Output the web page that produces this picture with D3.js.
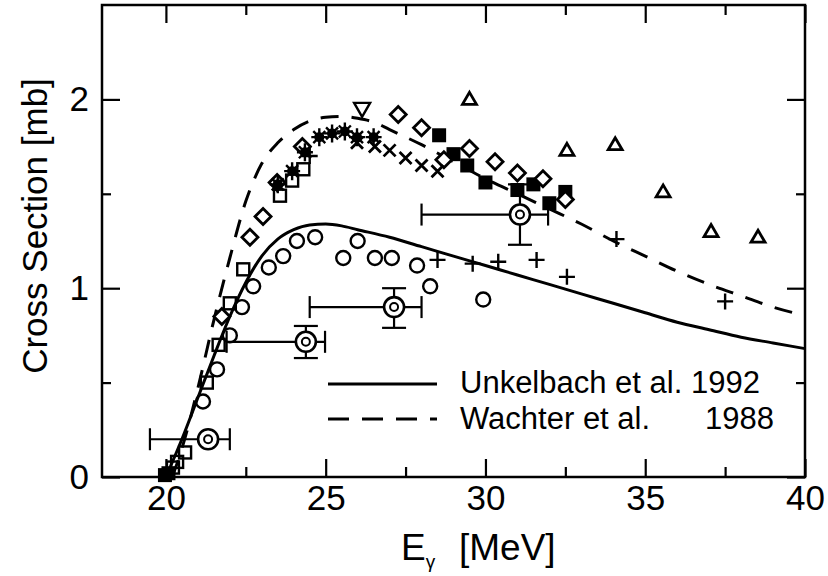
<!DOCTYPE html>
<html><head><meta charset="utf-8">
<script src="https://cdn.jsdelivr.net/npm/d3@7"></script>
<style>body{margin:0;background:#fff}svg{display:block}text{font-family:"Liberation Sans",Arial,sans-serif;fill:#000}</style>
</head><body>
<script>
// Theory curves
const unkE = [20.0,20.5,21.0,21.5,22.0,22.5,23.0,23.5,24.0,24.5,25.0,25.5,26.0,27.0,28.0,29.0,30.0,31.0,32.0,33.0,34.0,35.0,36.0,37.0,38.0,39.0,40.0];
const unkS = [0,0.2,0.42,0.64,0.85,1.03,1.17,1.26,1.31,1.335,1.34,1.33,1.31,1.27,1.22,1.17,1.12,1.07,1.02,0.97,0.92,0.87,0.82,0.78,0.74,0.71,0.68];
const wacE = [20.2,20.5,21.0,21.5,22.0,22.5,23.0,23.5,24.0,24.5,25.0,25.5,26.0,26.5,27.0,28.0,29.0,30.0,31.0,32.0,33.0,34.0,35.0,36.0,37.0,38.0,39.0,40.0];
const wacS = [0,0.15,0.47,0.83,1.16,1.46,1.66,1.77,1.84,1.885,1.905,1.91,1.90,1.88,1.84,1.76,1.67,1.58,1.50,1.42,1.34,1.25,1.17,1.09,1.02,0.96,0.90,0.855];

// Data sets
const circE = [21.16,21.6,22.0,22.38,22.73,23.22,23.67,24.1,24.67,25.55,26.0,26.54,27.07,27.86,28.27,29.93];
const circS = [0.40,0.57,0.75,0.90,1.01,1.11,1.17,1.25,1.27,1.16,1.25,1.16,1.16,1.12,1.01,0.94];
const sqE = [20.22,20.35,20.6,21.28,21.65,22.0,22.42,23.57,23.95,24.3];
const sqS = [0.05,0.08,0.13,0.50,0.70,0.92,1.10,1.49,1.57,1.63];
const fsqE = [19.97,20.08,28.55,29.0,29.43,30.0,31.0,31.5,32.0,32.5];
const fsqS = [0.01,0.02,1.81,1.71,1.65,1.56,1.52,1.55,1.45,1.51];
const diaE = [21.75,22.63,23.04,23.48,24.27,27.27,28.0,28.7,29.5,30.3,31.0,31.8,32.5];
const diaS = [0.85,1.27,1.38,1.56,1.75,1.92,1.85,1.68,1.74,1.67,1.61,1.58,1.47];
const triE = [29.5,32.55,34.06,35.56,37.06,38.53];
const triS = [2.0,1.73,1.76,1.51,1.30,1.27];
const tdnE = [26.14];
const tdnS = [1.95];
const xE = [25.98,26.54,27.0,27.5,28.0,28.5];
const xS = [1.77,1.75,1.73,1.69,1.65,1.62];
const astE = [23.5,23.95,24.35,24.8,25.2,25.6,25.98,26.5];
const astS = [1.55,1.62,1.72,1.80,1.82,1.83,1.80,1.80];
const plE = [24.5,28.5,29.6,30.4,31.6,32.55,34.1,37.5];
const plS = [1.70,1.15,1.13,1.14,1.15,1.06,1.26,0.93];
// bullseye points with error bars
const bE = [21.32,24.38,27.14,31.08];
const bS = [0.20,0.716,0.90,1.39];
const bXlo = [19.5,21.9,24.5,28.0];
const bXhi = [22.0,24.98,28.0,31.96];
const bYlo = [null,0.63,0.79,1.23];
const bYhi = [null,0.80,1.0,1.55];

const xMajor = [20,25,30,35,40];
const xMinor = [22.5,27.5,32.5,37.5];
const yMajor = [0,1,2];
const yMinor = [0.5,1.5];
const legendLabels = ["Unkelbach et al. 1992","Wachter et al."];
const legendYears = ["","1988"];

const W = 828, H = 576;
const x = d3.scaleLinear().domain([18,40]).range([102,805]);
const y = d3.scaleLinear().domain([0,2.5]).range([477,5]);
const svg = d3.select("body").append("svg").attr("width",W).attr("height",H);

const zip = (a,b) => a.map((v,i)=>[v,b[i]]);

// axes
function axes(){
  const g = svg.append("g");
  g.append("g").attr("transform","translate(0,477)")
    .call(d3.axisBottom(x).tickValues(xMajor).tickSize(-18).tickPadding(8).tickFormat(d3.format("d")));
  g.append("g").attr("transform","translate(0,477)")
    .call(d3.axisBottom(x).tickValues(xMinor).tickSize(-10).tickFormat(""));
  g.append("g").attr("transform","translate(0,5)")
    .call(d3.axisTop(x).tickValues(xMajor).tickSize(-18).tickFormat(""));
  g.append("g").attr("transform","translate(0,5)")
    .call(d3.axisTop(x).tickValues(xMinor).tickSize(-10).tickFormat(""));
  g.append("g").attr("transform","translate(102,0)")
    .call(d3.axisLeft(y).tickValues(yMajor).tickSize(-18).tickPadding(13).tickFormat(d3.format("d")));
  g.append("g").attr("transform","translate(102,0)")
    .call(d3.axisLeft(y).tickValues(yMinor).tickSize(-9).tickFormat(""));
  g.append("g").attr("transform","translate(805,0)")
    .call(d3.axisRight(y).tickValues(yMajor).tickSize(-18).tickFormat(""));
  g.append("g").attr("transform","translate(805,0)")
    .call(d3.axisRight(y).tickValues(yMinor).tickSize(-9).tickFormat(""));
  g.selectAll(".domain").remove();
  g.selectAll(".tick line").attr("stroke","#000").attr("stroke-width",2.2);
  g.selectAll(".tick text").attr("font-size",35).attr("font-family","Liberation Sans, Arial, sans-serif").attr("fill","#000");
  g.append("rect").attr("x",x(18)).attr("y",y(2.5)).attr("width",x(40)-x(18)).attr("height",y(0)-y(2.5))
    .attr("fill","none").attr("stroke","#000").attr("stroke-width",2.5);
}
axes();

// titles
svg.append("text").attr("transform","translate(47,226) rotate(-90)").attr("text-anchor","middle")
  .attr("font-size",35).text("Cross Section [mb]");
const xt = svg.append("text").attr("x",401).attr("y",560).attr("font-size",37);
xt.append("tspan").text("E");
xt.append("tspan").attr("font-size",19).attr("dy",8).text("γ");
xt.append("tspan").attr("x",459).attr("y",560).text("[MeV]");

// curves
const line = d3.line().x(d=>x(d[0])).y(d=>y(d[1])).curve(d3.curveMonotoneX);
const plot = svg.append("g");
plot.append("path").datum(zip(unkE,unkS)).attr("d",line).attr("fill","none").attr("stroke","#000").attr("stroke-width",3);
plot.append("path").datum(zip(wacE,wacS)).attr("d",line).attr("fill","none").attr("stroke","#000").attr("stroke-width",3).attr("stroke-dasharray","18,13");

const SW = 2.4;
// error bars and bullseye
bE.forEach((e,i)=>{
  const cx = x(e), cy = y(bS[i]);
  const g = plot.append("g").attr("stroke","#000").attr("stroke-width",2.2).attr("fill","none");
  g.append("line").attr("x1",x(bXlo[i])).attr("x2",x(bXhi[i])).attr("y1",cy).attr("y2",cy);
  [bXlo[i],bXhi[i]].forEach(v=>g.append("line").attr("x1",x(v)).attr("x2",x(v)).attr("y1",cy-11).attr("y2",cy+11));
  if(bYlo[i]!=null){
    g.append("line").attr("x1",cx).attr("x2",cx).attr("y1",y(bYlo[i])).attr("y2",y(bYhi[i]));
    [bYlo[i],bYhi[i]].forEach(v=>g.append("line").attr("x1",cx-12).attr("x2",cx+12).attr("y1",y(v)).attr("y2",y(v)));
  }
  g.append("circle").attr("cx",cx).attr("cy",cy).attr("r",10).attr("fill","#fff").attr("stroke-width",2.6);
  g.append("circle").attr("cx",cx).attr("cy",cy).attr("r",4).attr("stroke-width",2);
});

function pts(E,S){return zip(E,S);}
// open circles
plot.selectAll(".c").data(pts(circE,circS)).enter().append("circle")
  .attr("cx",d=>x(d[0])).attr("cy",d=>y(d[1])).attr("r",7).attr("fill","none").attr("stroke","#000").attr("stroke-width",SW);
// open squares
plot.selectAll(".s").data(pts(sqE,sqS)).enter().append("rect")
  .attr("x",d=>x(d[0])-6).attr("y",d=>y(d[1])-6).attr("width",12).attr("height",12).attr("fill","none").attr("stroke","#000").attr("stroke-width",SW);
// filled squares
plot.selectAll(".fs").data(pts(fsqE,fsqS)).enter().append("rect")
  .attr("x",d=>x(d[0])-7).attr("y",d=>y(d[1])-7).attr("width",14).attr("height",14).attr("fill","#000");
// diamonds
plot.selectAll(".d").data(pts(diaE,diaS)).enter().append("path")
  .attr("d",d=>{const cx=x(d[0]),cy=y(d[1]),r=8;return `M${cx},${cy-r}L${cx+r},${cy}L${cx},${cy+r}L${cx-r},${cy}Z`;})
  .attr("fill","#fff").attr("stroke","#000").attr("stroke-width",SW+0.4);
// triangles up
plot.selectAll(".t").data(pts(triE,triS)).enter().append("path")
  .attr("d",d=>{const cx=x(d[0]),cy=y(d[1]);return `M${cx},${cy-7}L${cx+7},${cy+5}L${cx-7},${cy+5}Z`;})
  .attr("fill","none").attr("stroke","#000").attr("stroke-width",SW+0.4);
// triangles down
plot.selectAll(".td").data(pts(tdnE,tdnS)).enter().append("path")
  .attr("d",d=>{const cx=x(d[0]),cy=y(d[1]);return `M${cx-8},${cy-6}L${cx+8},${cy-6}L${cx},${cy+8}Z`;})
  .attr("fill","none").attr("stroke","#000").attr("stroke-width",SW);
// x crosses
plot.selectAll(".x").data(pts(xE,xS)).enter().append("path")
  .attr("d",d=>{const cx=x(d[0]),cy=y(d[1]),r=6;return `M${cx-r},${cy-r}L${cx+r},${cy+r}M${cx-r},${cy+r}L${cx+r},${cy-r}`;})
  .attr("stroke","#000").attr("stroke-width",SW+0.4);
// asterisks
plot.selectAll(".a").data(pts(astE,astS)).enter().append("g").each(function(d){
  const cx=x(d[0]),cy=y(d[1]),g=d3.select(this);
  g.append("circle").attr("cx",cx).attr("cy",cy).attr("r",5).attr("fill","#000");
  g.append("path").attr("d",`M${cx-8},${cy}L${cx+8},${cy}M${cx},${cy-9}L${cx},${cy+9}M${cx-6},${cy-6}L${cx+6},${cy+6}M${cx-6},${cy+6}L${cx+6},${cy-6}`)
    .attr("stroke","#000").attr("stroke-width",2.4);
});
// plus
plot.selectAll(".p").data(pts(plE,plS)).enter().append("path")
  .attr("d",d=>{const cx=x(d[0]),cy=y(d[1]),r=8;return `M${cx-r},${cy}L${cx+r},${cy}M${cx},${cy-r}L${cx},${cy+r}`;})
  .attr("stroke","#000").attr("stroke-width",SW);

// legend
const lg = svg.append("g");
lg.append("line").attr("x1",328).attr("x2",437).attr("y1",384).attr("y2",384).attr("stroke","#000").attr("stroke-width",3);
lg.append("line").attr("x1",328).attr("x2",437).attr("y1",419).attr("y2",419).attr("stroke","#000").attr("stroke-width",3).attr("stroke-dasharray","21,13");
lg.append("text").attr("x",460).attr("y",393).attr("font-size",31).text(legendLabels[0]);
lg.append("text").attr("x",460).attr("y",429).attr("font-size",31).text(legendLabels[1]);
lg.append("text").attr("x",774).attr("y",429).attr("font-size",31).attr("text-anchor","end").text(legendYears[1]);
</script>
</body></html>
